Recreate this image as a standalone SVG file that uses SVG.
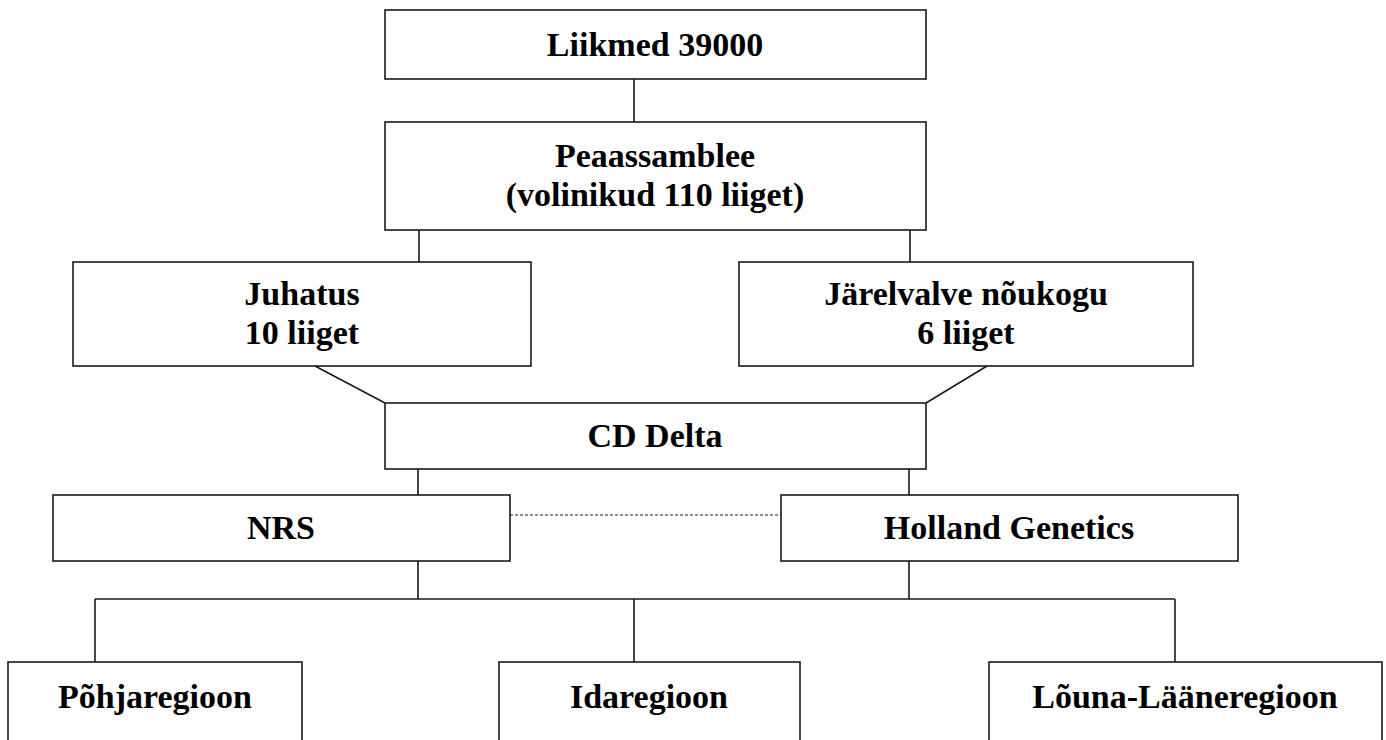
<svg xmlns="http://www.w3.org/2000/svg" width="1386" height="740" viewBox="0 0 1386 740">
<style>
.box{fill:#fff;stroke:#1a1a1a;stroke-width:1.6}
.ln{fill:none;stroke:#1a1a1a;stroke-width:1.6}
.dot{fill:none;stroke:#1a1a1a;stroke-width:1.2;stroke-dasharray:3 2}
text{font-family:"Liberation Serif","Times New Roman",serif;font-weight:bold;font-size:34px;fill:#000;text-anchor:middle}
</style>
<rect width="1386" height="740" fill="#fff"/>
<g id="connectors">
<line class="ln" x1="634" y1="79" x2="634" y2="122"/>
<line class="ln" x1="419" y1="230" x2="419" y2="262"/>
<line class="ln" x1="910" y1="230" x2="910" y2="262"/>
<line class="ln" x1="315" y1="366" x2="385" y2="403"/>
<line class="ln" x1="987" y1="366" x2="926" y2="403"/>
<line class="ln" x1="418" y1="469" x2="418" y2="495"/>
<line class="ln" x1="909" y1="469" x2="909" y2="495"/>
<line class="dot" x1="510" y1="515" x2="781" y2="515"/>
<line class="ln" x1="418" y1="561" x2="418" y2="599"/>
<line class="ln" x1="909" y1="561" x2="909" y2="599"/>
<line class="ln" x1="95" y1="599" x2="1175" y2="599"/>
<line class="ln" x1="95" y1="599" x2="95" y2="662"/>
<line class="ln" x1="634" y1="599" x2="634" y2="662"/>
<line class="ln" x1="1175" y1="599" x2="1175" y2="662"/>
</g>
<g id="liikmed"><rect class="box" x="385" y="10" width="541" height="69"/><text x="655" y="56">Liikmed 39000</text></g>
<g id="peaassamblee"><rect class="box" x="385" y="122" width="541" height="108"/><text x="655" y="167">Peaassamblee</text><text x="655" y="206">(volinikud 110 liiget)</text></g>
<g id="juhatus"><rect class="box" x="73" y="262" width="458" height="104"/><text x="302" y="305">Juhatus</text><text x="302" y="344">10 liiget</text></g>
<g id="jarelvalve"><rect class="box" x="739" y="262" width="454" height="104"/><text x="966" y="305">Järelvalve nõukogu</text><text x="966" y="344">6 liiget</text></g>
<g id="cddelta"><rect class="box" x="385" y="403" width="541" height="66"/><text x="655" y="447">CD Delta</text></g>
<g id="nrs"><rect class="box" x="53" y="495" width="457" height="66"/><text x="281" y="539">NRS</text></g>
<g id="holland"><rect class="box" x="781" y="495" width="457" height="66"/><text x="1009" y="539">Holland Genetics</text></g>
<g id="pohja"><rect class="box" x="8" y="662" width="294" height="100"/><text x="155" y="708">Põhjaregioon</text></g>
<g id="ida"><rect class="box" x="499" y="662" width="301" height="100"/><text x="649" y="708">Idaregioon</text></g>
<g id="louna"><rect class="box" x="989" y="662" width="393" height="100"/><text x="1185" y="708">Lõuna-Lääneregioon</text></g>
</svg>
